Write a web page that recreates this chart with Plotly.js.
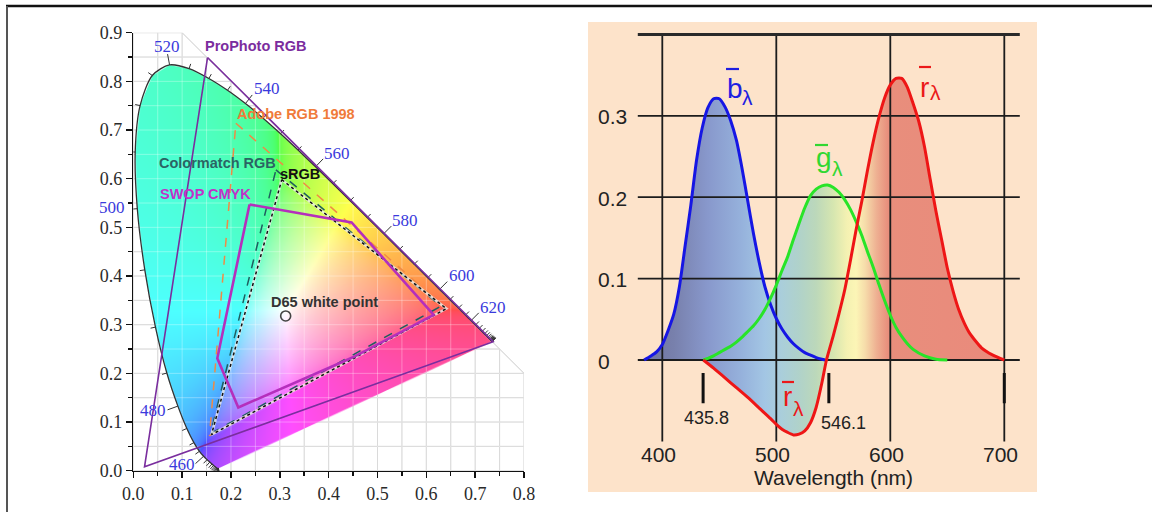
<!DOCTYPE html>
<html><head><meta charset="utf-8">
<script src="https://cdn.plot.ly/plotly-3.0.1.min.js"></script>
<style>html,body{margin:0;padding:0;background:#fff}#chart{width:1152px;height:512px}</style>
</head><body><div id="chart"></div>
<script>
// ---------------- DATA ----------------
// CIE 1931 spectral locus (chromaticity x, y) every 5 nm
const locusNm = [380,385,390,395,400,405,410,415,420,425,430,435,440,445,450,455,460,465,470,475,480,485,490,495,500,505,510,515,520,525,530,535,540,545,550,555,560,565,570,575,580,585,590,595,600,605,610,615,620,625,630,635,640,645,650,655,660,665,670,675,680,685,690,695,700];
const locusX = [0.1741,0.1740,0.1738,0.1736,0.1733,0.1730,0.1726,0.1721,0.1714,0.1703,0.1689,0.1669,0.1644,0.1611,0.1566,0.1510,0.1440,0.1355,0.1241,0.1096,0.0913,0.0687,0.0454,0.0235,0.0082,0.0039,0.0139,0.0389,0.0743,0.1142,0.1547,0.1929,0.2296,0.2658,0.3016,0.3373,0.3731,0.4087,0.4441,0.4788,0.5125,0.5448,0.5752,0.6029,0.6270,0.6482,0.6658,0.6801,0.6915,0.7006,0.7079,0.7140,0.7190,0.7230,0.7260,0.7283,0.7300,0.7311,0.7320,0.7327,0.7334,0.7340,0.7344,0.7346,0.7347];
const locusY = [0.0050,0.0050,0.0049,0.0049,0.0048,0.0048,0.0048,0.0048,0.0051,0.0058,0.0069,0.0086,0.0109,0.0138,0.0177,0.0227,0.0297,0.0399,0.0578,0.0868,0.1327,0.2007,0.2950,0.4127,0.5384,0.6548,0.7502,0.8120,0.8338,0.8262,0.8059,0.7816,0.7543,0.7243,0.6923,0.6589,0.6245,0.5896,0.5547,0.5202,0.4866,0.4544,0.4242,0.3965,0.3725,0.3514,0.3340,0.3197,0.3083,0.2993,0.2920,0.2859,0.2809,0.2770,0.2740,0.2717,0.2700,0.2689,0.2680,0.2673,0.2666,0.2660,0.2656,0.2654,0.2653];
const labeledNm = [460,480,500,520,540,560,580,600,620];

// Gamut polygons (closed)
const proPhotoX = [0.152,0.737,0.023,0.152];
const proPhotoY = [0.849,0.265,0.008,0.849];
const adobeX = [0.210,0.640,0.156,0.210];
const adobeY = [0.714,0.333,0.072,0.714];
const colormatchX = [0.292,0.630,0.158,0.292];
const colormatchY = [0.618,0.338,0.076,0.618];
const sRgbX = [0.304,0.641,0.160,0.304];
const sRgbY = [0.598,0.333,0.074,0.598];
const swopX = [0.238,0.447,0.615,0.450,0.215,0.172,0.238];
const swopY = [0.547,0.510,0.320,0.233,0.130,0.231,0.547];
const whitePointX = [0.312];
const whitePointY = [0.318];
const gamutNames = ['ProPhoto RGB','Adobe RGB 1998','Colormatch RGB','sRGB','SWOP CMYK','D65 white point'];

// CIE 1931 RGB colour matching functions
const bNm  = [384,390,395,400,405,410,415,420,425,430,435,440,445,450,455,460,465,470,475,480,485,490,495,500,505,510,515,520,525,530,535,540,543];
const bVal = [0,0.005,0.010,0.019,0.036,0.056,0.090,0.140,0.190,0.245,0.285,0.310,0.321,0.321,0.311,0.294,0.270,0.235,0.195,0.155,0.120,0.090,0.068,0.051,0.038,0.028,0.020,0.014,0.009,0.006,0.003,0.001,0];
const gNm  = [436,440,445,450,455,460,465,470,475,480,485,490,495,500,505,510,515,520,525,530,535,540,545,550,555,560,565,570,575,580,585,590,595,600,605,610,615,620,630,640,650];
const gVal = [0,0.002,0.005,0.009,0.013,0.017,0.022,0.028,0.035,0.042,0.051,0.062,0.076,0.092,0.110,0.127,0.148,0.168,0.187,0.202,0.210,0.214,0.215,0.212,0.206,0.197,0.185,0.170,0.153,0.133,0.114,0.093,0.073,0.055,0.040,0.029,0.020,0.013,0.005,0.001,0];
const rNm  = [436,445,455,465,475,485,495,500,505,510,515,520,525,530,535,540,544,550,555,560,565,570,575,580,585,590,595,600,605,610,615,620,625,630,635,640,645,650,655,660,665,670,680,690,700];
const rVal = [0,-0.010,-0.022,-0.034,-0.046,-0.059,-0.072,-0.079,-0.085,-0.089,-0.092,-0.091,-0.087,-0.077,-0.058,-0.028,0,0.030,0.057,0.086,0.122,0.160,0.195,0.233,0.268,0.298,0.322,0.338,0.346,0.346,0.335,0.315,0.293,0.262,0.222,0.183,0.148,0.113,0.085,0.062,0.045,0.032,0.015,0.006,0];
const primaryNm = [435.8, 546.1, 700];
const primaryLabels = ['435.8', '546.1', ''];
const rightYTicks = [0, 0.1, 0.2, 0.3];
const rightYTickText = ['0', '0.1', '0.2', '0.3'];
const rightXTicks = [400, 500, 600, 700];
const rightXTickText = ['400', '500', '600', '700'];

// ---------------- STYLE / LAYOUT HELPERS ----------------
const W = 1152, H = 512;
const PX = p => p / W, PY = p => 1 - p / H;
const SANS = 'Liberation Sans, Arial, sans-serif';
const SERIF = 'Liberation Serif, Times New Roman, serif';
// left (chromaticity) subplot pixel frame
const L = {x0: 133.3, x1: 524, y0: 470.7, y1: 32.7, xr: [0, 0.8], yr: [0, 0.9]};
const pxPerX = (L.x1 - L.x0) / 0.8, pxPerY = (L.y0 - L.y1) / 0.9;
// right (CMF) subplot
const xr2 = [370, 720], yr2 = [-0.17, 0.43];
const x2px = v => 662.3 + (v - 400) * 1.14;
const y2py = v => 360 - v * 814;

const traces = [];
const shapes = [];
const annotations = [];

// ---- horseshoe colour image (canvas, antialiased clip to the locus) ----
function xyToRgb(x, y) {
  const X = x / y, Y = 1, Z = (1 - x - y) / y;
  let r = 3.2406 * X - 1.5372 * Y - 0.4986 * Z;
  let g = -0.9689 * X + 1.8758 * Y + 0.0415 * Z;
  let b = 0.0557 * X - 0.2040 * Y + 1.0570 * Z;
  const m = Math.min(r, g, b); if (m < 0) { r -= m; g -= m; b -= m; }
  const M = Math.max(r, g, b); r /= M; g /= M; b /= M;
  const gam = v => v <= 0.0031308 ? 12.92 * v : 1.055 * Math.pow(v, 1 / 2.4) - 0.055;
  const lift = v => Math.round(255 * (0.3 + 0.7 * gam(v)));
  return [lift(r), lift(g), lift(b)];
}
const step = 0.001;
const nCols = Math.ceil(0.74 / step), nRows = Math.ceil(0.84 / step);
const cv = document.createElement('canvas');
cv.width = nCols; cv.height = nRows;
const ctx = cv.getContext('2d');
const id = ctx.createImageData(nCols, nRows);
for (let j = 0; j < nRows; j++) {
  const y = Math.max((j + 0.5) * step, 0.002);
  for (let i = 0; i < nCols; i++) {
    const x = (i + 0.5) * step;
    const c = xyToRgb(x, y); const k = 4 * (j * nCols + i);
    id.data[k] = c[0]; id.data[k + 1] = c[1]; id.data[k + 2] = c[2]; id.data[k + 3] = 255;
  }
}
ctx.putImageData(id, 0, 0);
ctx.globalCompositeOperation = 'destination-in';
ctx.beginPath();
locusX.forEach((x, i) => { const px = x / step, py = locusY[i] / step; if (i) ctx.lineTo(px, py); else ctx.moveTo(px, py); });
ctx.closePath(); ctx.fillStyle = '#000'; ctx.fill();
traces.push({type: 'image', source: cv.toDataURL('image/png'), x0: step / 2, y0: step / 2, dx: step, dy: step, zsmooth: 'fast',
  xaxis: 'x', yaxis: 'y', hoverinfo: 'skip'});

// ---- grid (clipped to x+y<=1) ----
let gridPath = '';
const gx = [], gy = [];
for (let k = 0; k <= 16; k++) { const x = +(k * 0.05).toFixed(2); const yt = Math.min(0.9, 1 - x);
  gridPath += `M${x},0L${x},${yt}`; gx.push(x, x, null); gy.push(0, yt, null); }
for (let k = 0; k <= 18; k++) { const y = +(k * 0.05).toFixed(2); const xe = Math.min(0.8, 1 - y);
  gridPath += `M0,${y}L${xe},${y}`; gx.push(0, xe, null); gy.push(y, y, null); }
gridPath += 'M0.1,0.9L0.8,0.2';
shapes.push({type: 'path', path: gridPath, xref: 'x', yref: 'y', layer: 'below', line: {color: '#c9c9c9', width: 1}});
traces.push({x: gx, y: gy, mode: 'lines', line: {color: 'rgba(255,255,255,0.32)', width: 1}, xaxis: 'x', yaxis: 'y', hoverinfo: 'skip', showlegend: false});

// ---- locus outline ----
traces.push({x: locusX, y: locusY, mode: 'lines', line: {color: '#333', width: 1.3, shape: 'spline', smoothing: 0.8},
  xaxis: 'x', yaxis: 'y', hoverinfo: 'skip'});

// ---- locus ticks ----
const tkX = [], tkY = [];
const cx0 = 0.33, cy0 = 0.33;
for (let i = 0; i < locusNm.length; i++) {
  const p = Math.max(i - 1, 0), q = Math.min(i + 1, locusNm.length - 1);
  const dxp = (locusX[q] - locusX[p]) * pxPerX, dyp = (locusY[q] - locusY[p]) * pxPerY;
  const len = Math.hypot(dxp, dyp); if (len < 1e-9) continue;
  let nx = dyp / len, ny = -dxp / len;
  if (nx * (locusX[i] - cx0) + ny * (locusY[i] - cy0) < 0) { nx = -nx; ny = -ny; }
  const tl = labeledNm.includes(locusNm[i]) ? 11 : 5;
  tkX.push(locusX[i], locusX[i] + nx * tl / pxPerX, null);
  tkY.push(locusY[i], locusY[i] + ny * tl / pxPerY, null);
}
traces.push({x: tkX, y: tkY, mode: 'lines', line: {color: '#333', width: 1}, xaxis: 'x', yaxis: 'y', hoverinfo: 'skip'});

// wavelength label placement (px, layout only)
const wlLabelPos = {460: [182, 464], 480: [153, 410], 500: [112, 207], 520: [167, 46], 540: [267, 88],
  560: [337, 153], 580: [405, 220], 600: [462, 275], 620: [493, 307]};
labeledNm.forEach(nm => {
  const [lpx, lpy] = wlLabelPos[nm];
  annotations.push({x: PX(lpx), y: PY(lpy), xref: 'paper', yref: 'paper', text: String(nm), showarrow: false,
    xanchor: 'center', yanchor: 'middle', font: {family: SERIF, size: 17, color: '#3a3adc'}});
});

// ---- gamut polygons ----
traces.push({x: adobeX, y: adobeY, mode: 'lines', line: {color: '#f08a45', width: 1.5, dash: 'dash'}, xaxis: 'x', yaxis: 'y'});
traces.push({x: colormatchX, y: colormatchY, mode: 'lines', line: {color: '#1f5f5f', width: 1.5, dash: 'dash'}, xaxis: 'x', yaxis: 'y'});
traces.push({x: sRgbX, y: sRgbY, mode: 'lines', line: {color: 'rgba(235,235,235,0.8)', width: 2.6}, xaxis: 'x', yaxis: 'y'});
traces.push({x: sRgbX, y: sRgbY, mode: 'lines', line: {color: '#111', width: 1.5, dash: 'dot'}, xaxis: 'x', yaxis: 'y'});
traces.push({x: swopX, y: swopY, mode: 'lines', line: {color: '#b52fbc', width: 2.6}, xaxis: 'x', yaxis: 'y'});
traces.push({x: proPhotoX, y: proPhotoY, mode: 'lines', line: {color: '#7a2e9e', width: 1.6}, xaxis: 'x', yaxis: 'y'});
traces.push({x: whitePointX, y: whitePointY, mode: 'markers', marker: {symbol: 'circle-open', size: 10, color: '#444', line: {width: 1.6}}, xaxis: 'x', yaxis: 'y'});

// gamut labels (left edge px, centre py)
const gamutLabelStyle = [
  {px: 203, py: 46, color: '#7b2d9e'},
  {px: 235, py: 114, color: '#f07b3a'},
  {px: 157, py: 163, color: '#2b6464'},
  {px: 278, py: 174, color: '#111111'},
  {px: 158, py: 194, color: '#c132c8'},
  {px: 269, py: 302, color: '#333333'}
];
gamutNames.forEach((t, i) => {
  const s = gamutLabelStyle[i];
  annotations.push({x: PX(s.px), y: PY(s.py), xref: 'paper', yref: 'paper', text: '<b>' + t + '</b>', showarrow: false,
    xanchor: 'left', yanchor: 'middle', font: {family: SANS, size: 14.5, color: s.color}});
});

// ---------------- RIGHT CHART ----------------
const spectrumStops = [[384,'rgb(112,116,160)'],[410,'rgb(120,128,172)'],[440,'rgb(136,152,204)'],[470,'rgb(150,178,220)'],[490,'rgb(163,198,228)'],[505,'rgb(170,206,218)'],[520,'rgb(176,210,202)'],[535,'rgb(188,216,186)'],[550,'rgb(214,230,176)'],[562,'rgb(244,241,178)'],[570,'rgb(252,245,182)'],[578,'rgb(246,220,170)'],[588,'rgb(238,176,146)'],[598,'rgb(232,142,124)'],[700,'rgb(234,138,124)']];
const specScale = spectrumStops.map(([nm, c]) => [(nm - 384) / (700 - 384), c]);
const curves = [
  {x: bNm, y: bVal, color: 'rgb(22,22,228)'},
  {x: gNm, y: gVal, color: 'rgb(40,228,40)'},
  {x: rNm, y: rVal, color: 'rgb(238,22,22)'}
];
curves.forEach(c => traces.push({x: c.x, y: c.y, mode: 'lines', line: {width: 0, shape: 'spline', smoothing: 0.6},
  fill: 'tozeroy', fillgradient: {type: 'horizontal', colorscale: specScale, start: 384, stop: 700},
  xaxis: 'x2', yaxis: 'y2', hoverinfo: 'skip'}));

// grid lines drawn over the fills
const vgx = [], vgy = [];
rightXTicks.forEach(v => { vgx.push(v, v, null); vgy.push(-0.1, 0.4, null); });
const hgx = [], hgy = [];
rightYTicks.forEach(v => { hgx.push(378.5, 713.6, null); hgy.push(v, v, null); });
traces.push({x: vgx, y: vgy, mode: 'lines', line: {color: '#1c1c1c', width: 1.8}, xaxis: 'x2', yaxis: 'y2', hoverinfo: 'skip'});
traces.push({x: hgx, y: hgy, mode: 'lines', line: {color: '#1c1c1c', width: 1.8}, xaxis: 'x2', yaxis: 'y2', hoverinfo: 'skip'});
traces.push({x: [378.5, 713.6], y: [0.4, 0.4], mode: 'lines', line: {color: '#2a2a2a', width: 3}, xaxis: 'x2', yaxis: 'y2', hoverinfo: 'skip'});

// primary wavelength markers
const pmx = [], pmy = [];
primaryNm.forEach(v => { pmx.push(v, v, null); pmy.push(-0.016, -0.053, null); });
traces.push({x: pmx, y: pmy, mode: 'lines', line: {color: '#111', width: 3}, xaxis: 'x2', yaxis: 'y2', hoverinfo: 'skip'});

curves.forEach(c => traces.push({x: c.x, y: c.y, mode: 'lines', line: {color: c.color, width: 3, shape: 'spline', smoothing: 0.6},
  xaxis: 'x2', yaxis: 'y2', hoverinfo: 'skip'}));

// right tick labels
rightYTicks.forEach((v, i) => annotations.push({x: PX(596), y: v, xref: 'paper', yref: 'y2', text: rightYTickText[i],
  showarrow: false, xanchor: 'left', yanchor: 'middle', yshift: -1, font: {family: SANS, size: 21, color: '#222'}}));
rightXTicks.forEach((v, i) => annotations.push({x: v, y: -0.1155, xref: 'x2', yref: 'y2', text: rightXTickText[i],
  showarrow: false, xanchor: 'center', yanchor: 'middle', xshift: -4, font: {family: SANS, size: 21, color: '#222'}}));
annotations.push({x: 550, y: -0.1443, xref: 'x2', yref: 'y2', text: 'Wavelength (nm)', showarrow: false,
  xanchor: 'center', yanchor: 'middle', font: {family: SANS, size: 21, color: '#222'}});
annotations.push({x: primaryNm[0], y: -0.0716, xref: 'x2', yref: 'y2', text: primaryLabels[0], showarrow: false,
  xanchor: 'center', yanchor: 'middle', xshift: 3, font: {family: SANS, size: 18, color: '#222'}});
annotations.push({x: primaryNm[1], y: -0.0774, xref: 'x2', yref: 'y2', text: primaryLabels[1], showarrow: false,
  xanchor: 'center', yanchor: 'middle', xshift: 15, font: {family: SANS, size: 18, color: '#222'}});

// curve labels: letter, subscript lambda, overbar
const curveLabels = [
  {t: 'b', px: 725, base: 98, lpx: 740, lbase: 105, bar: [726, 739, 69], color: 'rgb(30,30,225)'},
  {t: 'g', px: 814, base: 167, lpx: 830, lbase: 176, bar: [815, 828, 145], color: 'rgb(50,215,50)'},
  {t: 'r', px: 918, base: 97, lpx: 928, lbase: 100, bar: [919, 931, 67], color: 'rgb(235,25,25)'},
  {t: 'r', px: 781, base: 406, lpx: 791, lbase: 416, bar: [782, 794, 382], color: 'rgb(235,25,25)'}
];
curveLabels.forEach(c => {
  annotations.push({x: PX(c.px), y: PY(c.base - 0.3465 * 28), xref: 'paper', yref: 'paper', text: c.t, showarrow: false,
    xanchor: 'left', yanchor: 'middle', font: {family: SANS, size: 28, color: c.color}});
  annotations.push({x: PX(c.lpx), y: PY(c.lbase - 0.3465 * 21), xref: 'paper', yref: 'paper', text: 'λ', showarrow: false,
    xanchor: 'left', yanchor: 'middle', font: {family: SANS, size: 21, color: c.color}});
  shapes.push({type: 'line', xref: 'paper', yref: 'paper', x0: PX(c.bar[0]), x1: PX(c.bar[1]), y0: PY(c.bar[2]), y1: PY(c.bar[2]),
    line: {color: c.color, width: 2.2}, layer: 'above'});
});

// peach panel & page frame
shapes.push({type: 'rect', xref: 'paper', yref: 'paper', x0: PX(588), x1: PX(1037), y0: PY(492), y1: PY(22),
  fillcolor: '#fde3ca', line: {width: 0}, layer: 'below'});
shapes.push({type: 'line', xref: 'paper', yref: 'paper', x0: PX(6), x1: 1, y0: PY(6), y1: PY(6), line: {color: '#111', width: 2.5}, layer: 'above'});
shapes.push({type: 'line', xref: 'paper', yref: 'paper', x0: PX(7), x1: PX(7), y0: PY(6), y1: 0, line: {color: '#555', width: 2}, layer: 'above'});

const axCommon = {showgrid: false, zeroline: false, showline: true, linecolor: '#111', linewidth: 1.5,
  ticks: 'outside', ticklen: 6, tickwidth: 1.5, tickcolor: '#111', tickformat: '.1f',
  tickfont: {family: SERIF, size: 18, color: '#2a2a2a'}, fixedrange: true,
  minor: {ticks: 'outside', ticklen: 4, tickwidth: 1.5, tickcolor: '#111', dtick: 0.05, showgrid: false}};

const layout = {
  width: W, height: H, margin: {l: 0, r: 0, t: 0, b: 0}, showlegend: false,
  paper_bgcolor: '#ffffff', plot_bgcolor: 'rgba(0,0,0,0)',
  xaxis: Object.assign({}, axCommon, {domain: [PX(L.x0), PX(L.x1)], range: L.xr, autorange: false, dtick: 0.1, tick0: 0, anchor: 'y', scaleanchor: false}),
  yaxis: Object.assign({}, axCommon, {domain: [PY(L.y0), PY(L.y1)], range: L.yr, autorange: false, dtick: 0.1, tick0: 0, anchor: 'x', scaleanchor: false}),
  xaxis2: {domain: [PX(x2px(xr2[0])), PX(x2px(xr2[1]))], range: xr2, autorange: false, visible: false, anchor: 'y2', fixedrange: true},
  yaxis2: {domain: [PY(y2py(yr2[0])), PY(y2py(yr2[1]))], range: yr2, autorange: false, visible: false, anchor: 'x2', fixedrange: true},
  shapes: shapes, annotations: annotations
};
Plotly.newPlot('chart', traces, layout, {staticPlot: true, displayModeBar: false});
</script></body></html>
